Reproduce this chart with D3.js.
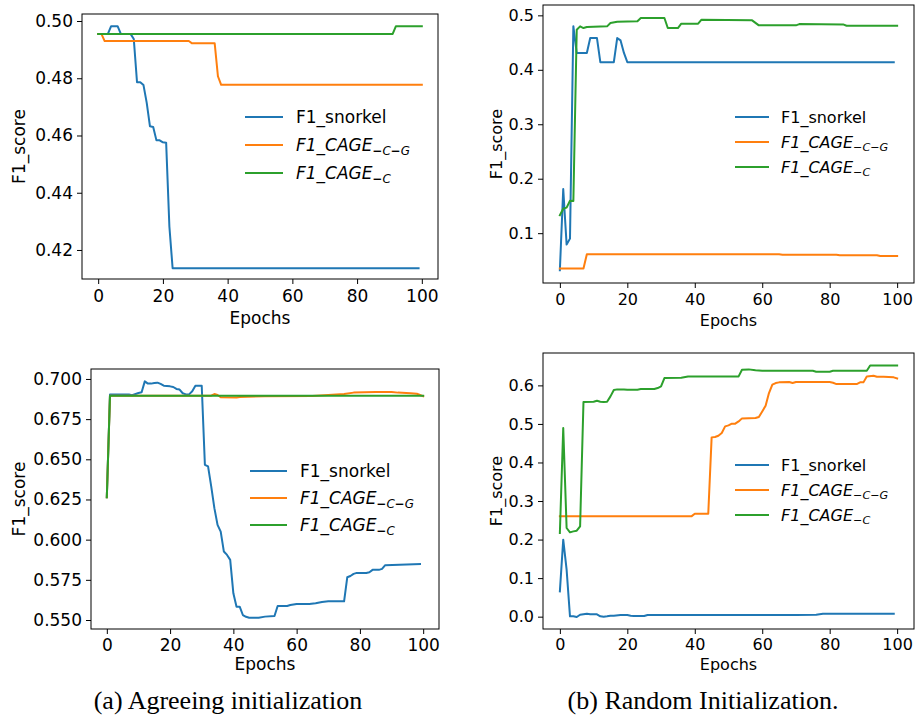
<!DOCTYPE html>
<html><head><meta charset="utf-8">
<script src="https://cdn.jsdelivr.net/npm/d3@7"></script>
<style>
html,body{margin:0;padding:0;background:#fff;}
svg text{font-family:"DejaVu Sans",sans-serif;}
</style></head>
<body>
<svg id="c" width="915" height="717"></svg>
<script>
// ---------- data (epoch keypoints, F1 values) ----------
// (a) Agreeing initialization, top
const a1SnorkelEp = [0,3,4,6,7,10,11,12,13,14,15,16,17,18,19,20,21,22,23,99];
const a1SnorkelVal = [0.4955,0.4955,0.4982,0.4982,0.4955,0.4955,0.4937,0.4786,0.4786,0.4776,0.4714,0.4632,0.4630,0.4583,0.4583,0.4576,0.4575,0.4282,0.4136,0.4136];
const a1CGEp = [0,1,2,28,29,36,37,38,100];
const a1CGVal = [0.4955,0.4955,0.4930,0.4930,0.4922,0.4922,0.4807,0.4777,0.4777];
const a1CEp = [0,91,92,100];
const a1CVal = [0.4955,0.4955,0.4982,0.4982];

// (b) Random initialization, top
const b1SnorkelEp = [0,1,2,3,4,5,8,9,11,12,16,17,18,19,20,99];
const b1SnorkelVal = [0.032,0.181,0.079,0.090,0.480,0.4307,0.4307,0.4583,0.4583,0.4141,0.4141,0.4583,0.454,0.431,0.4141,0.4141];
const b1CGEp = [0,7,8,65,66,82,83,94,95,100];
const b1CGVal = [0.035,0.035,0.0613,0.0613,0.0605,0.0605,0.0595,0.0595,0.058,0.058];
const b1CEp = [0,1,2,3,4,5,6,7,8,14,15,17,23,24,31,32,35,36,41,42,57,59,70,71,84,85,100];
const b1CVal = [0.133,0.145,0.147,0.1595,0.159,0.4736,0.4798,0.4767,0.4785,0.4798,0.4859,0.4883,0.489,0.4951,0.4951,0.4767,0.4767,0.4847,0.4847,0.492,0.4908,0.4816,0.4816,0.484,0.4834,0.481,0.481];

// (a) Agreeing initialization, bottom
const a2SnorkelEp = [0,1,7,8,10,11,12,13,14,15,16,17,18,20,21,22,23,24,25,26,27,28,30,31,32,33,34,35,36,37,38,39,40,41,42,43,44,45,48,50,53,54,57,58,60,64,66,68,70,75,76,77,78,79,82,83,84,86,87,88,99];
const a2SnorkelVal = [0.6264,0.6903,0.6903,0.6899,0.6913,0.6917,0.6985,0.6971,0.6971,0.6975,0.6977,0.6969,0.6958,0.6954,0.6950,0.6938,0.6934,0.6911,0.6904,0.6904,0.6923,0.6958,0.6958,0.6466,0.6456,0.6331,0.6196,0.6092,0.6050,0.5926,0.5905,0.5874,0.5666,0.5583,0.5583,0.5531,0.5520,0.5514,0.5514,0.5521,0.5525,0.5587,0.5587,0.5593,0.5600,0.5600,0.5604,0.5612,0.5616,0.5616,0.5766,0.5774,0.5787,0.5793,0.5793,0.5797,0.5812,0.5812,0.5818,0.5841,0.5849];
const a2CGEp = [0,1,33,34,35,36,41,42,50,65,70,75,78,85,90,92,96,98,99,100];
const a2CGVal = [0.6264,0.6896,0.6896,0.6906,0.6900,0.6886,0.6884,0.6888,0.6892,0.6894,0.6900,0.6906,0.6915,0.6919,0.6919,0.6915,0.6911,0.6908,0.6900,0.6892];
const a2CEp = [0,1,100];
const a2CVal = [0.6264,0.6896,0.6896];

// (b) Random initialization, bottom
const b2SnorkelEp = [0,1,2,3,4,5,6,8,9,11,12,13,14,15,16,18,20,21,22,25,26,70,76,78,99];
const b2SnorkelVal = [0.0657,0.1997,0.1219,0.0009,0.0009,-0.001,0.005,0.0078,0.006,0.006,0.001,0.000,0.001,0.0026,0.0026,0.0043,0.0043,0.0026,0.0017,0.0017,0.0043,0.0043,0.0052,0.0078,0.0078];
const b2CGEp = [0,39,40,44,45,46,47,48,49,50,51,52,53,54,58,59,60,61,62,63,64,65,68,69,70,80,81,82,88,89,90,91,93,94,96,99,100];
const b2CGVal = [0.2602,0.2602,0.2671,0.2671,0.4651,0.4660,0.4694,0.4763,0.4936,0.4962,0.5006,0.5006,0.5066,0.5144,0.5153,0.518,0.5325,0.5473,0.580,0.6017,0.606,0.6078,0.6086,0.606,0.6086,0.6086,0.6069,0.6034,0.6034,0.6078,0.6078,0.6233,0.625,0.6225,0.6225,0.6208,0.618];
const b2CEp = [0,1,2,3,4,5,6,7,10,11,12,13,14,15,16,17,19,20,23,24,28,29,30,31,36,38,53,54,56,58,60,75,76,80,81,91,92,100];
const b2CVal = [0.217,0.4893,0.230,0.2187,0.2213,0.223,0.2343,0.5567,0.5576,0.560,0.5576,0.5567,0.5576,0.5714,0.588,0.5896,0.5896,0.5888,0.5888,0.5905,0.5905,0.593,0.5974,0.619,0.620,0.6233,0.6233,0.6406,0.6415,0.639,0.638,0.638,0.6354,0.6354,0.638,0.638,0.6518,0.6518];

// tick labels
const xTicks = [0,20,40,60,80,100];
const a1YTicks = [0.42,0.44,0.46,0.48,0.50];
const b1YTicks = [0.1,0.2,0.3,0.4,0.5];
const a2YTicks = [0.550,0.575,0.600,0.625,0.650,0.675,0.700];
const b2YTicks = [0.0,0.1,0.2,0.3,0.4,0.5,0.6];
const captions = ["(a) Agreeing initialization","(b) Random Initialization."];

const colors = {snorkel:"#1f77b4", cg:"#ff7f0e", c:"#2ca02c"};
const svg = d3.select("#c");

function zip(ep, val){ return ep.map((e,i)=>[e,val[i]]); }

function panel(o){
  const g = svg.append("g");
  const x = d3.scaleLinear().domain([-5,105]).range([o.l,o.r]);
  const y = d3.scaleLinear().domain(o.yd).range([o.b,o.t]);
  const fs = o.fs;
  const line = d3.line().x(d=>x(d[0])).y(d=>y(d[1]));
  const clipId = "clip"+o.id;
  g.append("clipPath").attr("id",clipId).append("rect")
    .attr("x",o.l).attr("y",o.t).attr("width",o.r-o.l).attr("height",o.b-o.t);
  const series = [
    {d:zip(o.s[0],o.s[1]), c:colors.snorkel},
    {d:zip(o.cg[0],o.cg[1]), c:colors.cg},
    {d:zip(o.c[0],o.c[1]), c:colors.c}
  ];
  g.append("g").attr("clip-path",`url(#${clipId})`).selectAll("path").data(series).join("path")
    .attr("d",s=>line(s.d)).attr("fill","none").attr("stroke",s=>s.c)
    .attr("stroke-width",2).attr("stroke-linejoin","round").attr("stroke-linecap","square");
  // axes
  const xa = g.append("g").attr("transform",`translate(0,${o.b})`)
    .call(d3.axisBottom(x).tickValues(xTicks).tickSize(5).tickSizeOuter(0).tickPadding(o.xPad).tickFormat(d3.format("d")));
  const ya = g.append("g").attr("transform",`translate(${o.l},0)`)
    .call(d3.axisLeft(y).tickValues(o.yt).tickSize(5).tickSizeOuter(0).tickPadding(4).tickFormat(d3.format(o.yf)));
  [xa,ya].forEach(a=>{
    a.select(".domain").remove();
    a.selectAll("text").attr("font-size",fs).attr("fill","#000").attr("font-family","DejaVu Sans");
    a.selectAll("line").attr("stroke","#000").attr("stroke-width",1);
  });
  g.append("rect").attr("x",o.l).attr("y",o.t).attr("width",o.r-o.l).attr("height",o.b-o.t)
    .attr("fill","none").attr("stroke","#000").attr("stroke-width",1);
  // labels
  g.append("text").attr("x",(o.l+o.r)/2).attr("y",o.b+o.epDy).attr("text-anchor","middle")
    .attr("font-size",fs).text("Epochs");
  g.append("text").attr("transform",`translate(${o.yl},${(o.t+o.b)/2}) rotate(-90)`)
    .attr("text-anchor","middle").attr("dominant-baseline","middle").attr("font-size",fs).text("F1_score");
  // legend
  const lg = g.append("g");
  const names = [
    {c:colors.snorkel, t:"F1_snorkel", sub:null},
    {c:colors.cg, t:"F1_CAGE", sub:["\u2212","C","\u2212","G"]},
    {c:colors.c, t:"F1_CAGE", sub:["\u2212","C"]}
  ];
  names.forEach((n,i)=>{
    const yy = o.lg.y + i*o.lg.dy;
    lg.append("line").attr("x1",o.lg.x).attr("x2",o.lg.x+o.lg.w).attr("y1",yy).attr("y2",yy)
      .attr("stroke",n.c).attr("stroke-width",2);
    const t = lg.append("text").attr("x",o.lg.x+o.lg.w+o.lg.gap).attr("y",yy+fs*0.36)
      .attr("font-size",fs);
    if(!n.sub){ t.text(n.t); }
    else {
      t.append("tspan").attr("font-style","italic").text(n.t);
      n.sub.forEach((s,k)=>{
        const isDash = s==="\u2212";
        const ts = t.append("tspan").attr("font-size",fs*0.7).attr("font-style", isDash?"normal":"italic");
        if(k===0) ts.attr("dy",fs*0.22);
        if(isDash && o.boldSub){ ts.attr("font-weight","bold"); }
        ts.text(s);
      });
    }
  });
}

panel({id:1,l:82,r:438,t:14,b:279,yd:[0.40986,0.50245],yt:a1YTicks,yf:".2f",fs:17,
  s:[a1SnorkelEp,a1SnorkelVal],cg:[a1CGEp,a1CGVal],c:[a1CEp,a1CVal],
  xPad:6,epDy:45,yl:20,lg:{x:245,y:117,dy:28,w:38,gap:13},boldSub:true});
panel({id:2,l:543,r:914,t:5,b:283,yd:[0.0085,0.519],yt:b1YTicks,yf:".1f",fs:16,
  s:[b1SnorkelEp,b1SnorkelVal],cg:[b1CGEp,b1CGVal],c:[b1CEp,b1CVal],
  xPad:6,epDy:43,yl:497,lg:{x:735,y:117,dy:25,w:34,gap:12},boldSub:false});
panel({id:3,l:91,r:439,t:369,b:629,yd:[0.5444,0.7062],yt:a2YTicks,yf:".3f",fs:17,
  s:[a2SnorkelEp,a2SnorkelVal],cg:[a2CGEp,a2CGVal],c:[a2CEp,a2CVal],
  xPad:5,epDy:41,yl:20,lg:{x:250,y:471,dy:27,w:37,gap:13},boldSub:true});
panel({id:4,l:543,r:914,t:353,b:629,yd:[-0.032,0.684],yt:b2YTicks,yf:".1f",fs:16,
  s:[b2SnorkelEp,b2SnorkelVal],cg:[b2CGEp,b2CGVal],c:[b2CEp,b2CVal],
  xPad:5,epDy:41,yl:497,lg:{x:735,y:465,dy:25,w:34,gap:12},boldSub:false});

svg.selectAll("text.cap").data(captions).join("text").attr("class","cap")
  .attr("x",(d,i)=>i===0?228:703).attr("y",709).attr("text-anchor","middle")
  .style("font-family","'Liberation Serif',serif").attr("font-size",26).text(d=>d);
</script>
</body></html>
